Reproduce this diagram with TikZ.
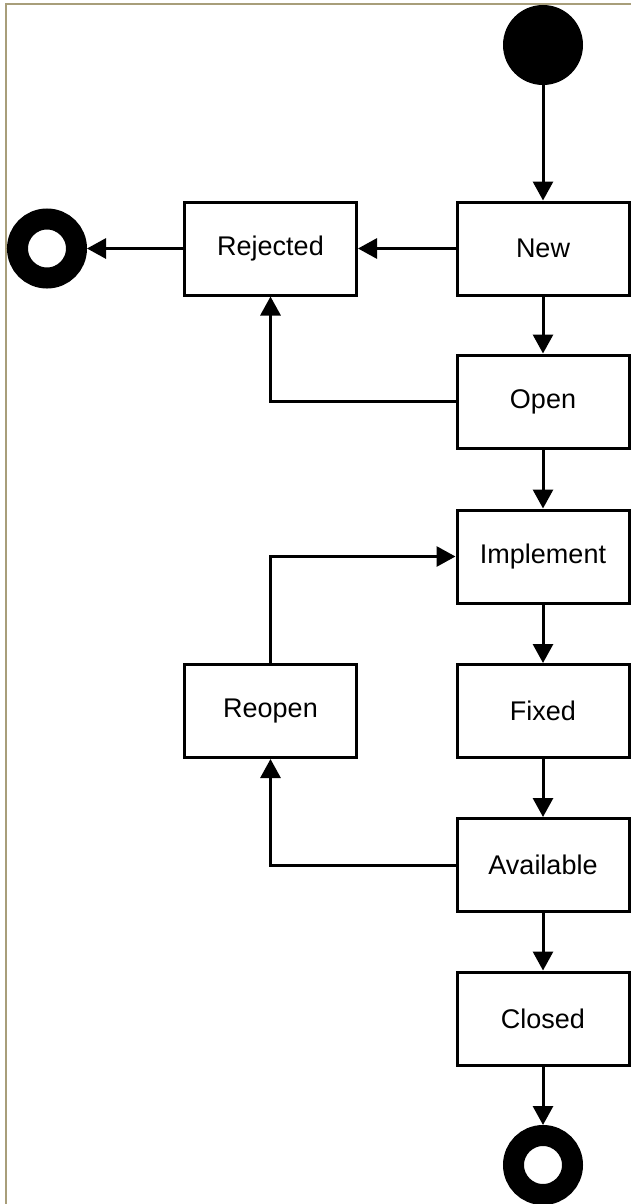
\documentclass[tikz,border=0pt]{standalone}
\usepackage{fontspec}
\setmainfont{Liberation Sans}
\usepackage{tikz}
\usetikzlibrary{arrows.meta}
\usetikzlibrary{positioning}

\definecolor{frameline}{RGB}{168,158,122}

\begin{document}
\begin{tikzpicture}[x=0.5pt, y=-0.5pt,
    state/.style={draw, line width=1.5pt, minimum width=86pt, minimum height=46.5pt,
      inner sep=0pt, font=\fontsize{13.5}{16}\selectfont},
    arr/.style={line width=1.5pt, -{Triangle[length=9.5pt,width=10pt]}},
    fin/.style={circle, draw, line width=10.5pt, minimum size=29.5pt, inner sep=0pt}]
  \useasboundingbox (0, 0) rectangle (631, 1204);
  \draw[frameline, line width=1pt] (6, 1204) -- (6, 4) -- (631, 4);

  \node[circle, fill=black, minimum size=40pt, inner sep=0pt] (start) at (543, 45) {};
  \node[state] (new) at (543, 248.5) {New};
  \node[state] (open) at (543, 401.5) {Open};
  \node[state] (implement) at (543, 556.5) {Implement};
  \node[state] (fixed) at (543, 711) {Fixed};
  \node[state] (available) at (543, 865) {Available};
  \node[state] (closed) at (543, 1018.5) {Closed};
  \node[fin] (endB) at (543, 1165) {};

  \node[state] (rejected) at (270.5, 248.5) {Rejected};
  \node[state] (reopen) at (270.5, 711) {Reopen};
  \node[fin] (endL) at (47, 248.5) {};

  \draw[arr] (start) -- (new);
  \draw[arr] (new) -- (rejected);
  \draw[arr] (rejected) -- (endL);
  \draw[arr] (new) -- (open);
  \draw[arr] (open) -- (implement);
  \draw[arr] (implement) -- (fixed);
  \draw[arr] (fixed) -- (available);
  \draw[arr] (available) -- (closed);
  \draw[arr] (closed) -- (endB);

  \draw[arr] (open.west) -| (rejected.south);
  \draw[arr] (reopen.north) |- (implement.west);
  \draw[arr] (available.west) -| (reopen.south);
\end{tikzpicture}
\end{document}
